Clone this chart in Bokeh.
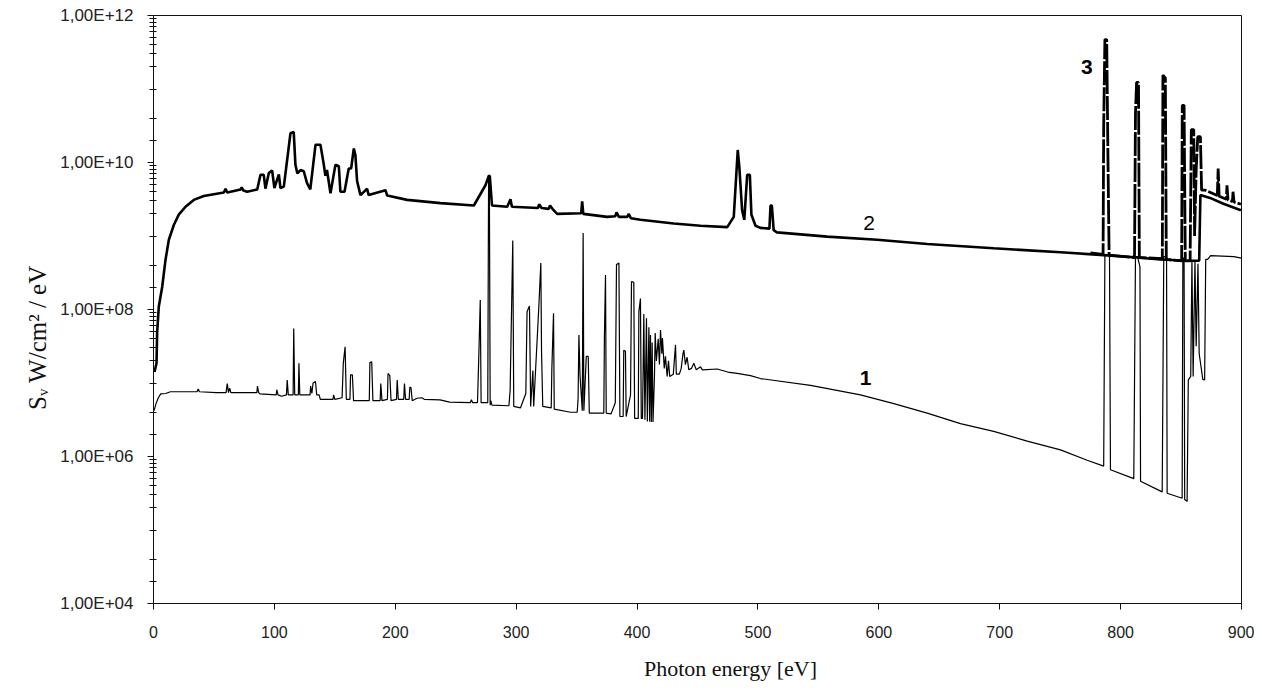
from bokeh.plotting import figure
from bokeh.models import FixedTicker, CustomJSTickFormatter, Range1d, ColumnDataSource
from bokeh.core.properties import value
from bokeh.embed import file_html
from bokeh.resources import INLINE

# ---------------- data ----------------
curve1_x = [0.5, 2, 4, 6, 10, 14, 36, 37, 38, 52, 60, 61, 62, 63, 64, 85.5, 86, 87, 88,
            101.5, 102, 103, 106, 110, 110.6, 111.5, 115.5, 116, 116.8, 119.8, 120.3, 121,
            129.5, 130, 131, 132, 134, 135, 137, 138, 148.5, 149, 150, 156, 157, 158.5, 159.5,
            162.5, 163, 164.5, 165.5, 178.5, 179, 180.5, 181.5, 187.5, 188, 189, 193.5, 194,
            195.5, 196.5, 201, 201.6, 202.5, 207, 207.6, 208.5, 211.5, 212, 213, 214, 218, 222,
            224, 237, 245, 262, 263, 264, 268, 269, 270.3, 271, 276.5, 277.2, 277.8, 278.5, 279, 280,
            294, 295, 297.2, 298, 303.6, 308, 309, 311, 312, 313.8, 314.5, 318.7, 320.4, 321,
            322, 329, 329.5, 330.9, 331.5, 345, 350.5, 351.2, 351.9, 352.8, 354.7, 355.4, 356,
            358, 359.6, 360.5, 372.5, 373, 373.9, 374.5, 378.5, 382, 383, 385, 385.8, 388.5,
            389, 390.4, 391, 394.6, 395.4, 397.3, 398, 401, 401.5, 402.8, 403.5, 404.5, 405.6,
            406.5, 407.8, 408.5, 409.8, 410.4, 411.1, 411.8, 412.5, 413.2, 414.4, 415, 416,
            417.5, 418.5, 419.4, 420.5, 421, 422.5, 423.5, 424.9, 426, 427, 430, 431.8, 432.5,
            435, 436.5, 438, 438.7, 440, 441.4, 442.8, 445, 447, 449, 452.5, 454, 466.3, 475,
            482.8, 493.8, 502, 543.5, 584.8, 612.4, 640, 667.5, 695, 722.7, 750.3, 772.3, 786,
            787, 790.8, 791.6, 810.9, 812.3, 814, 816, 816.5, 834.4, 835.7, 838, 838.5, 850.9,
            851.5, 852.5, 853, 855, 856, 858, 859, 860, 861.5, 862.5, 864, 865, 868, 869.5,
            870.4, 872, 874.5, 893.6, 900]
curve1_y = [4.2e6, 5.2e6, 6.3e6, 7.1e6, 7.2e6, 7.6e6, 7.6e6, 8.3e6, 7.6e6, 7.4e6, 7.4e6, 9.8e6, 7.4e6, 8.5e6, 7.4e6, 7.4e6, 9.1e6, 7.4e6, 7.1e6,
            6.9e6, 8.1e6, 6.9e6, 6.6e6, 6.9e6, 1.1e7, 6.9e6, 6.9e6, 5.5e7, 6.9e6, 6.9e6, 1.86e7, 6.9e6,
            6.9e6, 9.1e6, 7.2e6, 1.0e7, 1.05e7, 6.9e6, 6.9e6, 6.0e6, 6.0e6, 6.9e6, 6.0e6, 6.3e6, 1.86e7, 3.1e7, 6.0e6,
            6.0e6, 1.29e7, 1.29e7, 5.75e6, 5.75e6, 1.9e7, 1.95e7, 5.75e6, 5.75e6, 9.8e6, 5.75e6, 6.0e6, 1.35e7,
            1.26e7, 5.75e6, 6.0e6, 1.1e7, 6.0e6, 6.0e6, 9.8e6, 6.0e6, 6.0e6, 8.7e6, 8.7e6, 5.75e6, 6.2e6, 6.3e6,
            6.0e6, 5.9e6, 5.5e6, 5.4e6, 5.9e6, 5.4e6, 5.4e6, 2.0e7, 1.35e8, 5.4e6, 5.4e6, 6.6e9, 6.6e9, 5.0e6, 5.75e6, 5.0e6,
            4.9e6, 7.9e6, 8.7e8, 4.8e6, 4.6e6, 7.2e6, 9.3e7, 1.12e8, 4.8e6, 1.48e7, 4.8e6, 1.05e8, 4.3e8, 2.6e7,
            4.8e6, 4.6e6, 1.51e7, 8.9e7, 4.4e6, 4.0e6, 4.0e6, 6.0e6, 4.5e7, 1.29e7, 4.2e6, 1.1e9, 4.2e6,
            2.3e7, 2.3e7, 3.9e6, 3.9e6, 4.3e7, 2.95e8, 3.9e6, 3.8e6, 5.4e6, 4.1e8, 4.3e8, 3.5e6, 3.5e6,
            2.8e7, 2.7e7, 3.5e6, 6.9e6, 2.4e8, 2.34e8, 3.3e6, 3.3e6, 9.3e7, 1.41e8, 3.3e6, 3.3e6, 8.7e7,
            3.16e6, 7.6e7, 3.0e6, 5.75e7, 3.0e6, 4.5e7, 2.95e6, 3.55e7, 2.95e6, 1.23e7, 4.8e7, 2.0e7,
            4.0e7, 1.78e7, 5.25e7, 2.5e7, 4.1e7, 1.58e7, 2.3e7, 1.23e7, 2.0e7, 1.23e7, 1.32e7, 3.3e7, 1.32e7,
            1.32e7, 1.58e7, 2.5e7, 2.8e7, 1.78e7, 2.24e7, 1.51e7, 1.58e7, 1.86e7, 1.51e7, 1.66e7, 1.51e7, 1.55e7, 1.41e7,
            1.35e7, 1.26e7, 1.15e7, 9.3e6, 6.9e6, 5.25e6, 3.9e6, 2.8e6, 2.2e6, 1.62e6, 1.23e6, 8.9e5, 7.4e5,
            5.6e8, 5.6e8, 6.6e5, 5.0e5, 5.25e8, 5.25e8, 3.8e8, 4.6e5, 3.3e5, 5.25e8, 5.25e8, 3.16e5, 2.7e5,
            5.0e8, 5.0e8, 2.6e5, 2.45e5, 1.1e7, 1.23e7, 4.6e8, 1.23e7, 4.6e8, 3.16e7, 4.2e8, 2.5e7, 1.12e7, 1.1e7,
            4.8e8, 4.8e8, 5.4e8, 5.25e8, 5.0e8]

curve2_x = [0.8, 2.5, 3, 4.4, 7.2, 9.9, 12.7, 16.8, 20.9, 26.5, 33.3, 41.6, 50, 58.2, 59.6, 61,
            72, 73, 74, 77.4, 85.8, 88.5, 91.2, 92.6, 95.4, 98.1, 100, 103.7, 105, 107.8, 113.3,
            116, 117.4, 119, 121.6, 124.3, 127, 129.7, 134, 138.1, 140.9, 142.2, 143.5, 146.4,
            150.5, 153.3, 154.6, 158, 161.5, 163.5, 165.7, 167, 168.4, 171.2, 176.7, 178, 191.9,
            193.3, 209.8, 237.4, 265, 274.6, 277.4, 278.2, 280, 292.6, 295.3, 296.5, 318, 319,
            321, 327, 328, 330, 333.9, 353.8, 354.6, 355.5, 375.3, 382, 383, 385, 392, 393, 395,
            402.8, 430.4, 452.5, 474.6, 480, 483.3, 484.6, 486.9, 488.7, 491.1, 493.3, 494.6,
            498, 502, 509.5, 510.4, 511.5, 513, 515.7, 557.2, 598.6, 640, 695, 750.3, 786,
            813.7, 833, 855, 865, 866, 874, 885, 899.5]
curve2_y = [1.41e7, 1.86e7, 4.8e7, 1.1e8, 2.04e8, 4.7e8, 8.9e8, 1.41e9, 1.95e9, 2.5e9, 3.1e9, 3.5e9, 3.7e9, 3.9e9, 4.4e9, 3.9e9,
            4.3e9, 4.6e9, 4.2e9, 4.0e9, 4.3e9, 6.8e9, 6.8e9, 4.4e9, 7.2e9, 7.8e9, 4.5e9, 6.9e9, 4.5e9, 4.7e9, 2.5e10,
            2.6e10, 9.3e9, 7.1e9, 7.9e9, 7.6e9, 5.25e9, 4.3e9, 1.74e10, 1.74e10, 9.3e9, 6.6e9, 7.9e9, 3.8e9,
            9.3e9, 8.9e9, 4.0e9, 4.0e9, 8.3e9, 8.3e9, 1.55e10, 1.26e10, 5.6e9, 3.6e9, 4.4e9, 3.6e9, 4.2e9,
            3.55e9, 3.1e9, 2.8e9, 2.6e9, 4.9e9, 6.6e9, 6.5e9, 2.6e9, 2.5e9, 3.16e9, 2.5e9, 2.4e9, 2.7e9,
            2.4e9, 2.34e9, 2.6e9, 2.34e9, 2.0e9, 2.04e9, 2.95e9, 2.0e9, 1.82e9, 1.86e9, 2.1e9, 1.82e9, 1.82e9, 2.0e9, 1.74e9,
            1.66e9, 1.48e9, 1.38e9, 1.32e9, 1.82e9, 1.48e10, 8.7e9, 2.24e9, 1.66e9, 6.8e9, 6.8e9, 1.95e9,
            1.38e9, 1.29e9, 1.26e9, 2.6e9, 2.6e9, 1.2e9, 1.12e9, 9.8e8, 8.9e8, 7.8e8, 6.8e8, 6.0e8, 5.5e8,
            5.1e8, 4.8e8, 4.6e8, 4.6e8, 3.6e9, 3.3e9, 2.75e9, 2.24e9]

curve3_x = [775, 785.5, 786, 787, 788.5, 789.5, 790.5, 811.5, 812.3, 813.2, 814.8, 815.5, 834.5,
            835, 837, 837.8, 850.5, 851, 852.5, 853.5, 857.5, 858.5, 860.5, 861.2, 862.5, 863.8,
            866, 867, 870, 880, 880.7, 881.5, 887.5, 888, 888.8, 892.5, 893, 893.8, 899.5]
curve3_y = [5.9e8, 5.6e8, 3.16e10, 4.7e11, 4.7e11, 1.26e10, 5.5e8, 5.1e8, 4.7e10, 1.23e11, 1.23e11, 5.1e8, 4.9e8,
            1.55e11, 1.41e11, 4.8e8, 4.6e8, 6.0e10, 6.0e10, 4.6e8, 4.6e8, 2.8e10, 2.8e10, 1.0e9, 7.9e9, 2.24e10,
            2.24e10, 4.2e9, 4.2e9, 3.55e9, 8.3e9, 3.47e9, 3.16e9, 4.9e9, 3.1e9, 2.95e9, 4.0e9, 2.9e9, 2.7e9]

label_text = ["1", "2", "3"]
label_x = [589, 592, 772]
label_y = [1.17e7, 1.48e9, 2.0e11]

x_ticks = [0, 100, 200, 300, 400, 500, 600, 700, 800, 900]
y_ticks = [1e4, 1e6, 1e8, 1e10, 1e12]

# ---------------- figure ----------------
p = figure(width=1254, height=683, y_axis_type="log",
           x_range=Range1d(0, 900), y_range=Range1d(1e4, 1e12),
           output_backend="svg", toolbar_location=None,
           min_border_left=153, min_border_right=13, min_border_top=15, min_border_bottom=80)

p.background_fill_color = "white"
p.border_fill_color = "white"
p.outline_line_color = "#111111"
p.outline_line_width = 1
p.xgrid.visible = False
p.ygrid.visible = False

minor = []
for e in range(4, 12, 2):
    for k in (2, 4):
        minor.append(k * 10.0 ** e)
    for k in range(1, 10):
        minor.append(k * 10.0 ** (e + 1))

p.xaxis.ticker = FixedTicker(ticks=x_ticks, minor_ticks=[])
p.yaxis.ticker = FixedTicker(ticks=y_ticks, minor_ticks=minor)
p.yaxis.formatter = CustomJSTickFormatter(code="""
    const e = Math.round(Math.log10(tick));
    return '1,00E+' + (e < 10 ? '0' : '') + e;
""")

for ax in (p.xaxis[0], p.yaxis[0]):
    ax.axis_line_color = "#111111"
    ax.axis_line_width = 1
    ax.major_tick_line_color = "#111111"
    ax.minor_tick_line_color = "#111111"
    ax.major_tick_in = 0
    ax.major_tick_out = 6
    ax.major_label_text_color = "#222222"
    ax.axis_label_text_color = "#111111"
    ax.axis_label_text_font_style = "normal"

p.yaxis.minor_tick_in = 3
p.yaxis.minor_tick_out = 4
p.yaxis.major_label_text_font = "Liberation Sans"
p.yaxis.major_label_text_font_size = "17px"
p.yaxis.major_label_standoff = 14
p.yaxis.axis_label = "S\u1d65  W/cm\u00b2 / eV" + "\u00a0" * 8
p.yaxis.axis_label_text_font = "Liberation Serif"
p.yaxis.axis_label_text_font_size = "25px"
p.yaxis.axis_label_standoff = 6

p.xaxis.major_label_text_font = "Liberation Sans Narrow, Liberation Sans"
p.xaxis.major_label_text_font_size = "16px"
p.xaxis.major_label_standoff = 16
p.xaxis.axis_label = "\u00a0" * 12 + "Photon energy [eV]"
p.xaxis.axis_label_text_font = "Liberation Serif"
p.xaxis.axis_label_text_font_size = "22px"
p.xaxis.axis_label_standoff = 15

p.line(curve1_x, curve1_y, line_color="black", line_width=1.2)
p.line(curve2_x, curve2_y, line_color="black", line_width=2.6)
p.line(curve3_x, curve3_y, line_color="black", line_width=2.8, line_dash="24 2")

src = ColumnDataSource(dict(x=label_x, y=label_y, t=label_text,
                            s=["bold", "normal", "bold"]))
p.text(x="x", y="y", text="t", source=src, text_align="center", text_baseline="middle",
       text_font=value("Liberation Sans"), text_font_size="21px", text_font_style="s",
       text_color="black")

open("out.html", "w").write(file_html(p, INLINE))
